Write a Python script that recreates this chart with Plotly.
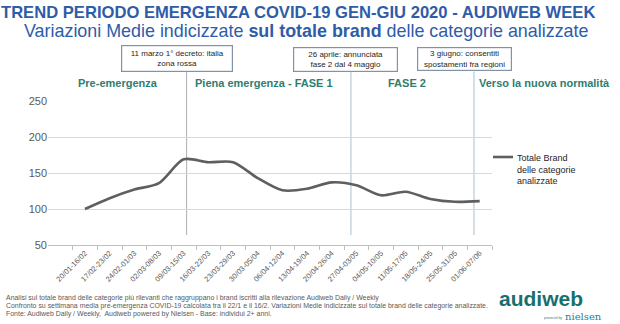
import plotly.graph_objects as go

# ---- data ----
categories = ["20/01-16/02", "17/02-23/02", "24/02-01/03", "02/03-08/03", "09/03-15/03",
              "16/03-22/03", "23/03-29/03", "30/03-05/04", "06/04-12/04", "13/04-19/04",
              "20/04-26/04", "27/04-03/05", "04/05-10/05", "11/05-17/05", "18/05-24/05",
              "25/05-31/05", "01/06-07/06"]
values = [100, 115, 127, 136, 169, 165, 165, 143, 126, 128, 137, 133, 119, 124, 114, 110, 111]
series_name = "Totale Brand<br>delle categorie<br>analizzate"

y_ticks = [50, 100, 150, 200, 250]

# event markers (position in category units) and callout texts
event_pos = [4.12, 10.78, 15.77]
event_text = ["11 marzo 1° decreto: italia<br>zona rossa",
              "26 aprile: annunciata<br>fase 2 dal 4 maggio",
              "3 giugno: consentiti<br>spostamenti fra regioni"]
phase_labels = ["Pre-emergenza", "Piena emergenza - FASE 1", "FASE 2", "Verso la nuova normalità"]

title = "TREND PERIODO EMERGENZA COVID-19 GEN-GIU 2020 - AUDIWEB WEEK"
subtitle = "Variazioni Medie indicizzate <b>sul totale brand</b> delle categorie analizzate"
footer = ["Analisi sul totale brand delle categorie più rilevanti che raggruppano i brand iscritti alla rilevazione Audiweb Daily / Weekly",
          "Confronto su settimana media pre-emergenza COVID-19 calcolata tra il 22/1 e il 16/2. Variazioni Medie indicizzate sul totale brand delle categorie analizzate.",
          "Fonte: Audiweb Daily / Weekly,  Audiweb powered by Nielsen - Base: individui 2+ anni."]

# ---- layout geometry (pixels) ----
W, H = 620, 324
L, R, T, B = 48, 492, 101, 245
pw, ph = R - L, B - T


def px(x):
    return (x - L) / pw


def py(y):
    return (B - y) / ph


FONT = "Liberation Sans, Arial, sans-serif"
BLUE = "#2e5ca8"
TEAL = "#2f7d70"
GRAY = "#595959"

fig = go.Figure()
fig.add_trace(go.Scatter(
    x=categories, y=values, mode="lines", name=series_name,
    line=dict(color="#5f5f5f", width=2.6, shape="spline", smoothing=0.8),
    showlegend=False, hoverinfo="x+y"))

shapes = []
ann = []

# vertical event lines
line_colors = ["#a8aeb4", "#cbd7e0", "#cbd7e0"]
line_widths = [1, 1.6, 1.6]
for pos, c, w in zip(event_pos, line_colors, line_widths):
    shapes.append(dict(type="line", xref="x", yref="paper", x0=pos, x1=pos,
                       y0=py(235), y1=py(71.5), line=dict(color=c, width=w), layer="below"))

# callout boxes
box_geo = [(176.5, 58.3, 112, 27), (345.8, 59.2, 105, 25), (464.2, 59.2, 95, 24)]
for (cx, cy, bw, bh), txt in zip(box_geo, event_text):
    ann.append(dict(text=txt, xref="paper", yref="paper", x=px(cx), y=py(cy),
                    xanchor="center", yanchor="middle", showarrow=False,
                    width=bw - 6, height=bh - 6, borderpad=2, bgcolor="white",
                    bordercolor="#8093a8", borderwidth=1.2,
                    font=dict(family=FONT, size=8, color="#262626")))

# phase labels
phase_x = [117.5, 264, 407, 544]
for x, t in zip(phase_x, phase_labels):
    ann.append(dict(text="<b>" + t + "</b>", xref="paper", yref="paper", x=px(x), y=py(82.7),
                    xanchor="center", yanchor="middle", showarrow=False,
                    font=dict(family=FONT, size=11, color=TEAL)))

# titles
ann.append(dict(text="<b>" + title + "</b>", xref="paper", yref="paper", x=px(298), y=py(12.5),
                xanchor="center", yanchor="middle", showarrow=False,
                font=dict(family=FONT, size=16.6, color=BLUE)))
ann.append(dict(text=subtitle, xref="paper", yref="paper", x=px(306), y=py(31),
                xanchor="center", yanchor="middle", showarrow=False,
                font=dict(family=FONT, size=17.9, color=BLUE)))

# manual legend
shapes.append(dict(type="line", xref="paper", yref="paper", x0=px(493), x1=px(513),
                   y0=py(157), y1=py(157), line=dict(color="#5f5f5f", width=2.6)))
ann.append(dict(text=series_name, xref="paper", yref="paper", x=px(515), y=py(151),
                xanchor="left", yanchor="top", align="left", showarrow=False,
                font=dict(family=FONT, size=9, color="#262626")))

# footer
for i, t in enumerate(footer):
    ann.append(dict(text=t, xref="paper", yref="paper", x=px(4), y=py(297.5 + 8.3 * i),
                    xanchor="left", yanchor="middle", showarrow=False,
                    font=dict(family=FONT, size=6.95, color=GRAY)))

# logo
ann.append(dict(text="<b>audiweb</b>", xref="paper", yref="paper", x=px(541), y=py(298),
                xanchor="center", yanchor="middle", showarrow=False,
                font=dict(family=FONT, size=21, color="#17706e")))
ann.append(dict(text="nielsen", xref="paper", yref="paper", x=px(583), y=py(316.5),
                xanchor="center", yanchor="middle", showarrow=False,
                font=dict(family="DejaVu Serif, serif", size=10, color="#2d7f8c")))
ann.append(dict(text="powered by", xref="paper", yref="paper", x=px(553), y=py(318),
                xanchor="center", yanchor="middle", showarrow=False,
                font=dict(family=FONT, size=3.5, color="#2d7f8c")))

fig.update_layout(
    width=W, height=H,
    margin=dict(l=L, r=W - R, t=T, b=H - B, pad=0),
    paper_bgcolor="white", plot_bgcolor="white",
    font=dict(family=FONT, color=GRAY),
    shapes=shapes, annotations=ann,
    xaxis=dict(type="category", range=[-1.5, len(categories) - 0.5],
               showgrid=False, showline=True, linecolor="#bfbfbf", linewidth=1,
               ticks="outside", tickson="boundaries", ticklen=4, tickcolor="#bfbfbf",
               tickangle=-45, tickfont=dict(family=FONT, size=7.5, color=GRAY)),
    yaxis=dict(range=[50, 250], tickvals=y_ticks, showgrid=True, gridcolor="#d9d9d9",
               gridwidth=1, zeroline=False, showline=False, ticks="",
               tickfont=dict(family=FONT, size=11, color=GRAY)),
)

fig.write_html("out.html")
